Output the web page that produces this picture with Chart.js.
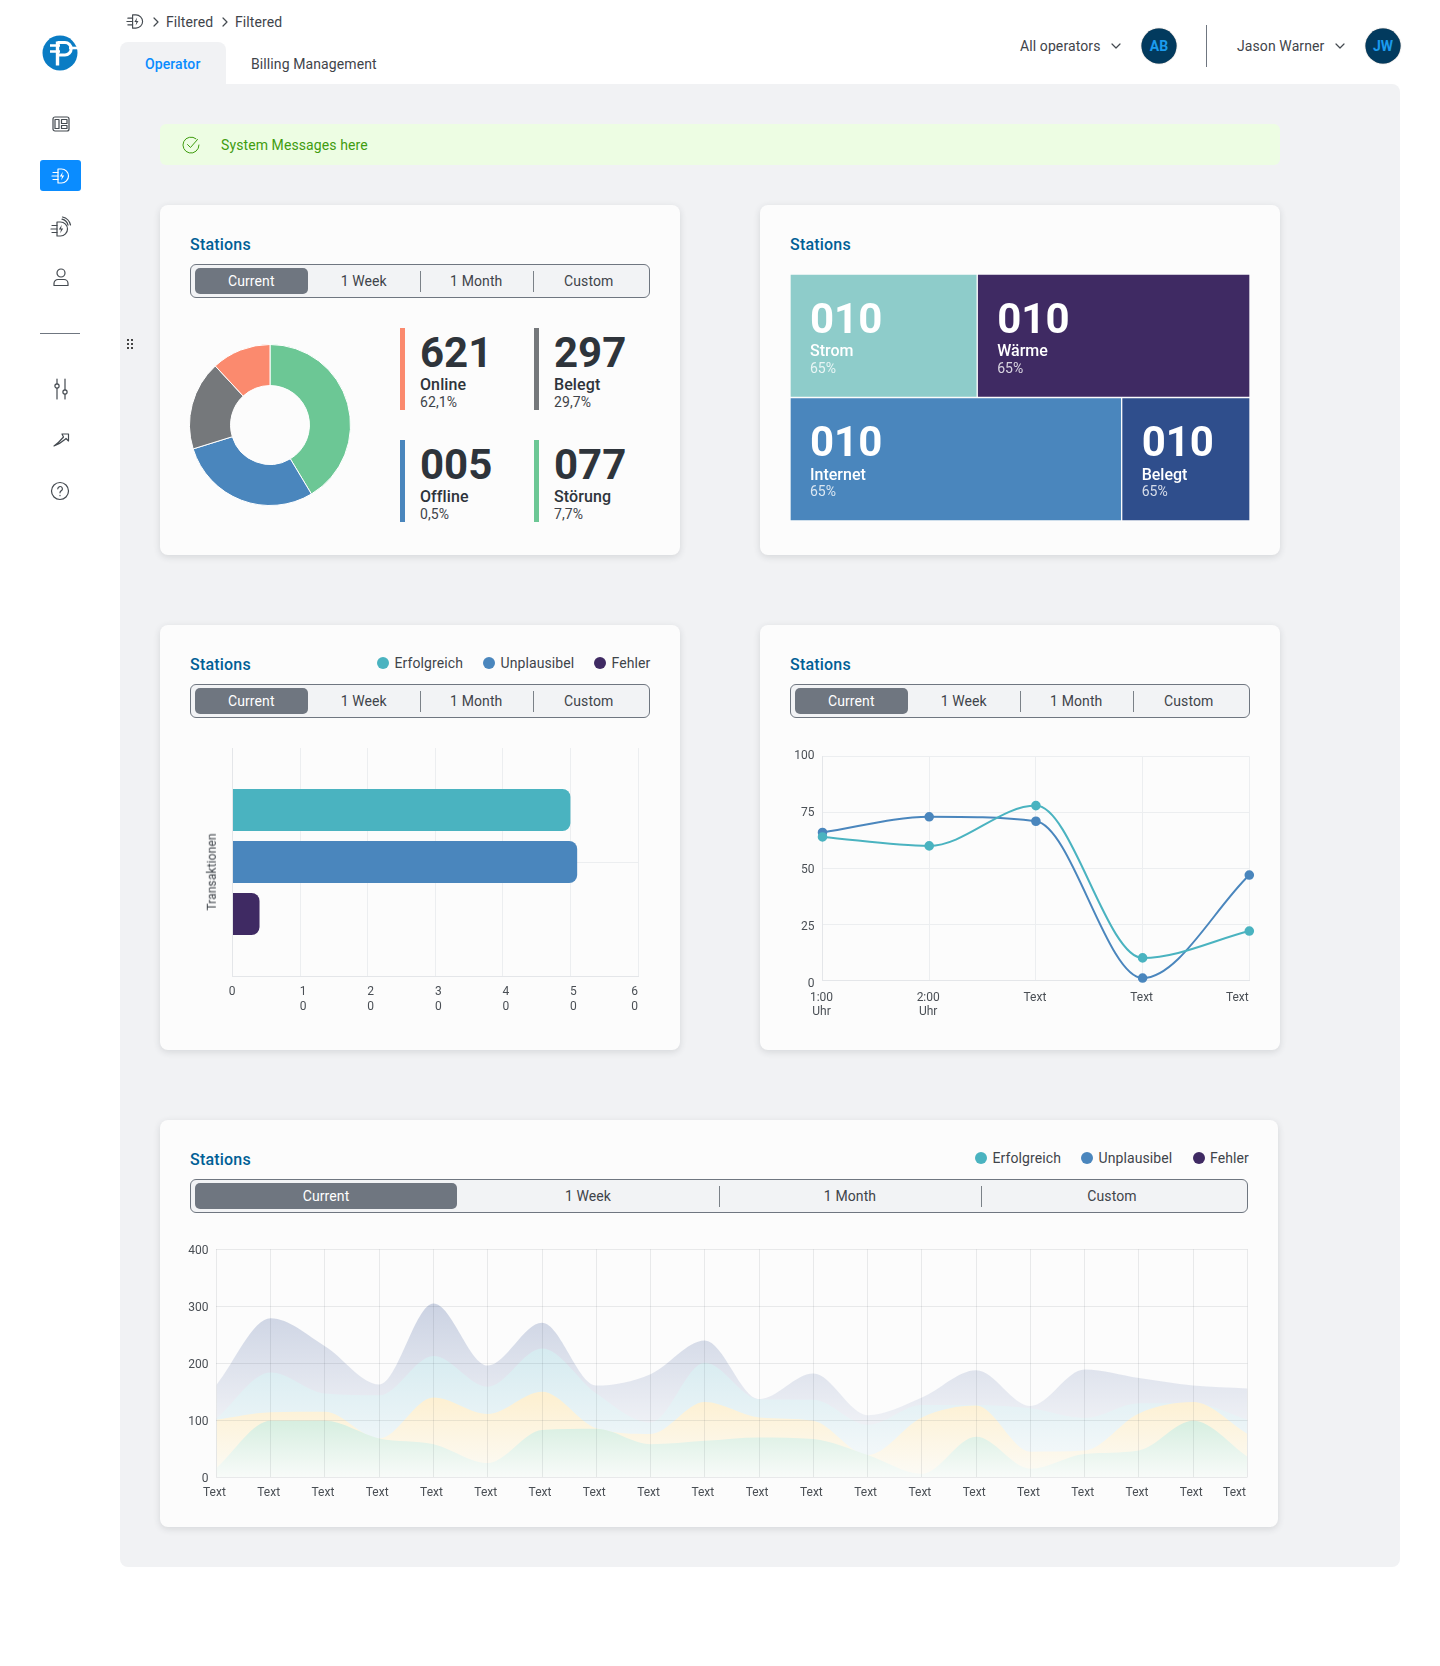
<!DOCTYPE html>
<html>
<head>
<meta charset="utf-8">
<title>Stations</title>
<script src="https://cdn.jsdelivr.net/npm/chart.js@4"></script>
<style>
html, body { margin: 0; padding: 0; background: #fff; }
body { position: relative; width: 1440px; height: 1666px; overflow: hidden; font-family: Roboto, sans-serif; color: #3f444a; }
.abs, canvas, svg.icon { position: absolute; }
.panel { background: #f1f2f4; }
.card { position: absolute; background: #fcfcfc; border-radius: 8px; box-shadow: 0 2px 7px rgba(40, 50, 60, .14); }
.txt { position: absolute; white-space: nowrap; transform: translateY(-50%); line-height: 1.2; letter-spacing: .1px; }
.title { font-size: 16px; font-weight: 500; color: #005f96; letter-spacing: .2px; }
.seg { position: absolute; box-sizing: border-box; display: flex; padding: 3px 4px 3px 4px; background: #f2f3f5; border: 1px solid #6f7680; border-radius: 6px; }
.seg div { flex: 1; text-align: center; font-size: 14px; line-height: 26px; color: #3f444a; letter-spacing: .1px; position: relative; }
.seg div.on { background: #6f7680; color: #fff; border-radius: 5px; }
.seg div.sep::after { content: ""; position: absolute; right: -1px; top: 3px; bottom: 2px; width: 1px; background: #7b8188; }
.dot { position: absolute; width: 12px; height: 12px; border-radius: 50%; transform: translate(-50%, -50%); }
.avatar { position: absolute; width: 35px; height: 35px; border-radius: 50%; background: #023a5e; color: #1b9bee; font-size: 14px; font-weight: 700; text-align: center; line-height: 35px; box-shadow: 0 0 1px #555; transform: translate(-50%, -50%); }
svg.icon { fill: none; stroke: #444a50; stroke-width: 1.2; stroke-linecap: round; stroke-linejoin: round; }
</style>
</head>
<body>
<svg width="0" height="0" style="position:absolute">
  <symbol id="plug" viewBox="0 0 20 20">
    <path d="M8 3h3.5a7 7 0 0 1 0 14H8z"/>
    <path d="M3 6.5h5M2 10h6M3 13.5h5"/>
    <path d="M12.8 5.8 9.8 10.6h2.2l-.8 3.6 3-4.8H12z" fill="currentColor" stroke="none"/>
  </symbol>
</svg>

<div class="abs panel" style="left:120px;top:84px;width:1280px;height:1483px;border-radius:0 8px 8px 8px"></div>
<div class="abs panel" style="left:120px;top:42px;width:106px;height:44px;border-radius:8px 8px 0 0"></div>
<div class="abs" style="left:40px;top:160px;width:41px;height:31px;background:#0a8cff;border-radius:3px"></div>
<div class="abs" style="left:40px;top:333px;width:40px;height:1px;background:#6f7680"></div>
<div class="abs" style="left:1206px;top:25px;width:1px;height:42px;background:#6f7680"></div>
<div class="abs" style="left:160px;top:124px;width:1120px;height:41px;background:#edfde3;border-radius:6px"></div>

<!-- logo -->
<svg class="abs" style="left:42px;top:34.5px" width="36" height="36" viewBox="0 0 36 36">
  <circle cx="18" cy="18" r="17.5" fill="#0a7cc4"/>
  <path d="M8 10.5h10M8 16.5h10" stroke="#fff" stroke-width="2.6" fill="none"/>
  <path d="M15.5 6.5v24" stroke="#fff" stroke-width="3.4" fill="none"/>
  <path d="M15.5 7.5h7.5a6.2 6.2 0 0 1 0 12.4h-7.5" fill="none" stroke="#fff" stroke-width="3"/>
  <path d="M27 13h9.5" stroke="#fff" stroke-width="2.6" fill="none"/>
</svg>
<!-- sidebar icons -->
<svg class="icon" style="left:52px;top:115px" width="18" height="18" viewBox="0 0 18 18"><rect x="1" y="2" width="16" height="14" rx="2"/><rect x="3" y="4.5" width="4" height="9"/><path d="M9.5 4.5H15v4H9.5zM9.5 10.5H15v3H9.5z"/></svg>
<svg class="icon" style="left:50px;top:165.5px;stroke:#fff;color:#fff" width="20" height="20"><use href="#plug"/></svg>
<svg class="icon" style="left:49px;top:216px;color:#444a50" width="23" height="23" viewBox="0 0 23 23"><use href="#plug" width="20" height="20" y="3"/><path d="M13 3.2a8 8 0 0 1 6 6M13.5 1a10.5 10.5 0 0 1 8 8"/></svg>
<svg class="icon" style="left:52px;top:267px" width="18" height="20" viewBox="0 0 18 20"><circle cx="9" cy="6" r="4"/><path d="M2 18.5v-2a4 4 0 0 1 4-4h6a4 4 0 0 1 4 4v2z"/></svg>
<svg class="icon" style="left:51px;top:378px" width="20" height="22" viewBox="0 0 20 22"><path d="M6 1v5M6 10v11M14 1v11M14 16v5"/><circle cx="6" cy="8" r="2.1"/><circle cx="14" cy="14" r="2.1"/></svg>
<svg class="icon" style="left:52px;top:431px" width="18" height="18" viewBox="0 0 18 18"><path d="M10 3h6.5v7L14 7.5C11 10 8 13 2 15c3-2 7-6 9.5-9z"/></svg>
<svg class="icon" style="left:50px;top:481px" width="20" height="20" viewBox="0 0 20 20"><circle cx="10" cy="10" r="8.5"/><path d="M7.8 7.8a2.3 2.3 0 1 1 3.3 2.1c-.8.4-1.1.9-1.1 1.9"/><path d="M10 14.4v.3"/></svg>
<svg class="abs" style="left:126px;top:339px" width="9" height="11" viewBox="0 0 9 11" fill="#444"><rect x="1" y="0" width="2" height="2"/><rect x="5" y="0" width="2" height="2"/><rect x="1" y="4" width="2" height="2"/><rect x="5" y="4" width="2" height="2"/><rect x="1" y="8" width="2" height="2"/><rect x="5" y="8" width="2" height="2"/></svg>
<!-- breadcrumb + header icons -->
<svg class="icon" style="left:125px;top:12px;color:#444a50" width="19" height="19"><use href="#plug"/></svg>
<svg class="icon" style="left:153px;top:17px" width="7" height="10" viewBox="0 0 7 10"><path d="M1 1l4 4-4 4"/></svg>
<svg class="icon" style="left:222px;top:17px" width="7" height="10" viewBox="0 0 7 10"><path d="M1 1l4 4-4 4"/></svg>
<svg class="icon" style="left:1111px;top:43px" width="10" height="7" viewBox="0 0 10 7"><path d="M1 1l4 4 4-4"/></svg>
<svg class="icon" style="left:1335px;top:43px" width="10" height="7" viewBox="0 0 10 7"><path d="M1 1l4 4 4-4"/></svg>
<svg class="icon" style="left:180.5px;top:135px;stroke:#3f9c0f;stroke-width:1" width="20" height="20" viewBox="0 0 20 20"><path d="M18 10a8 8 0 1 1-3-6.2"/><path d="M6.5 9.5l3 3 7-8"/></svg>

<div class="avatar" style="left:1159px;top:46px">AB</div>
<div class="avatar" style="left:1383px;top:46px">JW</div>

<div class="card" style="left:160px;top:205px;width:520px;height:350px"></div>
<div class="card" style="left:760px;top:205px;width:520px;height:350px"></div>
<div class="card" style="left:160px;top:625px;width:520px;height:425px"></div>
<div class="card" style="left:760px;top:625px;width:520px;height:425px"></div>
<div class="card" style="left:160px;top:1120px;width:1118px;height:407px"></div>

<canvas id="donut"></canvas>
<canvas id="treemap"></canvas>
<canvas id="bars"></canvas>
<canvas id="lines"></canvas>
<canvas id="areas"></canvas>

<script>
// ---- Daten ----
const donutLabels = ['Störung', 'Offline', 'Belegt', 'Online'];
const donutValues = [41.4, 28.8, 17.9, 11.9];
const donutColours = ['#6cc795', '#4a86bd', '#75787b', '#fb8a6e'];

const statValues = ['621', '297', '005', '077'];
const statNames = ['Online', 'Belegt', 'Offline', 'Störung'];
const statPercents = ['62,1%', '29,7%', '0,5%', '7,7%'];
const statColours = ['#fb8a6e', '#75787b', '#4a86bd', '#6cc795'];

const treemapRows = ['Oben', 'Unten'];
const treemapLeftValues = [40.7, 72.1];
const treemapRightValues = [59.3, 27.9];
const treemapLeftNames = ['Strom', 'Internet'];
const treemapRightNames = ['Wärme', 'Belegt'];
const treemapLeftColours = ['#8eccca', '#4a86bd'];
const treemapRightColours = ['#3f2a63', '#2f4e8c'];
const treemapNumber = '010';
const treemapPercent = '65%';

const barCategories = ['Transaktionen'];
const barErfolgreich = [50];
const barUnplausibel = [51];
const barFehler = [4];
const barTickLabels = [['0'], ['1', '0'], ['2', '0'], ['3', '0'], ['4', '0'], ['5', '0'], ['6', '0']];

const lineLabels = [['1:00', 'Uhr'], ['2:00', 'Uhr'], 'Text', 'Text', 'Text'];
const lineTeal = [64, 60, 78, 10, 22];
const lineBlue = [66, 73, 71, 1, 47];

const areaLabels = ['Text', 'Text', 'Text', 'Text', 'Text', 'Text', 'Text', 'Text', 'Text', 'Text',
                    'Text', 'Text', 'Text', 'Text', 'Text', 'Text', 'Text', 'Text', 'Text', 'Text'];
const areaPurple = [162, 279, 230, 163, 305, 196, 271, 161, 181, 240, 137, 182, 109, 140, 188, 125, 189, 174, 161, 156];
const areaTeal = [103, 184, 147, 144, 213, 159, 226, 147, 96, 201, 137, 136, 92, 127, 127, 121, 104, 130, 130, 101];
const areaYellow = [101, 114, 115, 68, 140, 111, 150, 86, 76, 132, 105, 99, 39, 105, 126, 45, 47, 112, 132, 76];
const areaGreen = [16, 99, 99, 68, 58, 25, 83, 85, 58, 64, 70, 67, 39, 6, 71, 15, 41, 47, 99, 36];

const legendNames = ['Erfolgreich', 'Unplausibel', 'Fehler'];
const legendColours = ['#4ab3c0', '#4a86bd', '#3f2a63'];
const segLabels = ['Current', '1 Week', '1 Month', 'Custom'];

// ---- HTML rund um die Charts ----
function text(str, x, y, style) {
    const el = document.createElement('div');
    el.className = 'txt';
    el.textContent = str;
    el.style.cssText = `left:${x}px;top:${y}px;${style || ''}`;
    document.body.appendChild(el);
    return el;
}

function title(x, y) {
    text('Stations', x, y).classList.add('title');
}

function segControl(x, y, w) {
    const seg = document.createElement('div');
    seg.className = 'seg';
    seg.style.cssText = `left:${x}px;top:${y}px;width:${w}px;height:34px`;
    segLabels.forEach((label, i) => {
        const item = document.createElement('div');
        item.textContent = label;
        if (i === 0) item.className = 'on';
        if (i === 1 || i === 2) item.className = 'sep';
        seg.appendChild(item);
    });
    document.body.appendChild(seg);
}

function legend(xs, y) {
    legendNames.forEach((name, i) => {
        const dot = document.createElement('div');
        dot.className = 'dot';
        dot.style.cssText = `left:${xs[i]}px;top:${y}px;background:${legendColours[i]}`;
        document.body.appendChild(dot);
        text(name, xs[i] + 11.5, y, 'font-size:14px');
    });
}

text('Filtered', 166, 21.5, 'font-size:14px');
text('Filtered', 235, 21.5, 'font-size:14px');
text('Operator', 145, 64, 'font-size:14px;font-weight:500;color:#0a8cff');
text('Billing Management', 251, 64, 'font-size:14px');
text('All operators', 1020, 46, 'font-size:14px');
text('Jason Warner', 1237, 46, 'font-size:14px');
text('System Messages here', 221, 145, 'font-size:14px;color:#3f9c0f');

title(190, 244.5);
title(790, 244.5);
title(190, 665);
title(790, 665);
title(190, 1160);
segControl(190, 264, 460);
segControl(190, 684, 460);
segControl(790, 684, 460);
segControl(190, 1179, 1058);
legend([383, 489, 600], 663);
legend([981, 1087, 1198.5], 1158);

const statColumns = [400, 534];
const statRows = [328, 440];
statValues.forEach((value, i) => {
    const x = statColumns[i % 2];
    const y = statRows[i < 2 ? 0 : 1];
    const bar = document.createElement('div');
    bar.className = 'abs';
    bar.style.cssText = `left:${x}px;top:${y}px;width:5px;height:82px;background:${statColours[i]}`;
    document.body.appendChild(bar);
    text(value, x + 20, y + 25, 'font-size:42px;font-weight:700;color:#2e343b;letter-spacing:0');
    text(statNames[i], x + 20, y + 57, 'font-size:16px;font-weight:500;color:#2e343b');
    text(statPercents[i], x + 20, y + 74, 'font-size:14px');
});

text('Transaktionen', 211.5, 872, 'font-size:12px;transform:translate(-50%,-50%) rotate(-90deg)');

// ---- Chart-Hilfen ----
Chart.defaults.font.family = 'Roboto, sans-serif';
Chart.defaults.font.size = 12;
Chart.defaults.color = '#4a4f55';
Chart.defaults.animation = false;
Chart.defaults.responsive = false;
Chart.defaults.plugins.legend.display = false;
Chart.defaults.plugins.tooltip.enabled = false;

// setzt das Canvas und liefert die Abstände, damit die Zeichenfläche genau auf "plot" liegt
function place(id, box, plot) {
    const canvas = document.getElementById(id);
    canvas.width = box.right - box.left;
    canvas.height = box.bottom - box.top;
    canvas.style.left = box.left + 'px';
    canvas.style.top = box.top + 'px';
    return {
        padding: { top: plot.top - box.top, right: box.right - plot.right, left: 0, bottom: 0 },
        fitY: scale => { scale.width = plot.left - box.left; },
        fitX: scale => { scale.height = box.bottom - plot.bottom; }
    };
}

// einzelne Tick-Labels leicht verschieben, wie im Original
const tickNudge = {
    id: 'tickNudge',
    beforeDraw(chart, args, opts) {
        const xItems = chart.scales.x.getLabelItems();
        const yItems = chart.scales.y.getLabelItems();
        if (chart.$nudged) return;
        chart.$nudged = true;
        if (xItems.length) {
            xItems[0].options.translation[0] += opts.first || 0;
            xItems[xItems.length - 1].options.translation[0] += opts.last || 0;
        }
        (opts.y || []).forEach((dy, i) => {
            if (yItems[i]) yItems[i].options.translation[1] += dy;
        });
    }
};

// Zahlen und Namen in die Treemap-Kacheln schreiben
const treemapText = {
    id: 'treemapText',
    afterDatasetsDraw(chart) {
        const ctx = chart.ctx;
        const names = [treemapLeftNames, treemapRightNames];
        ctx.save();
        ctx.textBaseline = 'middle';
        chart.data.datasets.forEach((ds, d) => {
            chart.getDatasetMeta(d).data.forEach((bar, i) => {
                const x = bar.base + 20;
                const top = bar.y - bar.height / 2;
                ctx.fillStyle = '#fff';
                ctx.font = '700 42px Roboto';
                ctx.fillText(treemapNumber, x, top + 48);
                ctx.font = '500 16px Roboto';
                ctx.fillText(names[d][i], x, top + 78);
                ctx.fillStyle = 'rgba(255,255,255,.8)';
                ctx.font = '400 14px Roboto';
                ctx.fillText(treemapPercent, x, top + 95);
            });
        });
        ctx.restore();
    }
};

// ---- Donut ----
const donutCanvas = document.getElementById('donut');
donutCanvas.width = 164;
donutCanvas.height = 164;
donutCanvas.style.left = '188px';
donutCanvas.style.top = '343px';
new Chart(donutCanvas, {
    type: 'doughnut',
    data: {
        labels: donutLabels,
        datasets: [{ data: donutValues, backgroundColor: donutColours, borderColor: '#fff', borderWidth: 1 }]
    },
    options: { cutout: '49%', layout: { padding: 1 } }
});

// ---- Treemap als gestapelte Balken ----
place('treemap', { left: 790, top: 274, right: 1250, bottom: 521 }, { left: 790, top: 274, right: 1250, bottom: 521 });
new Chart('treemap', {
    type: 'bar',
    data: {
        labels: treemapRows,
        datasets: [
            { data: treemapLeftValues, backgroundColor: treemapLeftColours },
            { data: treemapRightValues, backgroundColor: treemapRightColours }
        ]
    },
    options: {
        indexAxis: 'y',
        barPercentage: 1,
        categoryPercentage: 1,
        borderColor: '#fcfcfc',
        borderWidth: 1,
        borderSkipped: false,
        scales: {
            x: { display: false, stacked: true, min: 0, max: 100 },
            y: { display: false, stacked: true }
        }
    },
    plugins: [treemapText]
});

// ---- Balken ----
const barFit = place('bars', { left: 170, top: 735, right: 670, bottom: 1030 }, { left: 232.5, top: 748, right: 638, bottom: 976 });
new Chart('bars', {
    type: 'bar',
    data: {
        labels: barCategories,
        datasets: [
            { label: legendNames[0], data: barErfolgreich, backgroundColor: legendColours[0] },
            { label: legendNames[1], data: barUnplausibel, backgroundColor: legendColours[1] },
            { label: legendNames[2], data: barFehler, backgroundColor: legendColours[2] }
        ]
    },
    options: {
        indexAxis: 'y',
        categoryPercentage: 0.684,
        barPercentage: 0.81,
        borderRadius: 8,
        layout: { padding: barFit.padding },
        scales: {
            x: {
                min: 0, max: 60,
                ticks: { stepSize: 10, padding: 9, maxRotation: 0, labelOffset: 3, callback: (v, i) => barTickLabels[i] },
                grid: { color: '#eceef0', drawTicks: false },
                border: { color: '#e4e6e9' },
                afterFit: barFit.fitX
            },
            y: {
                ticks: { display: false },
                grid: { color: '#eceef0', drawTicks: false, offset: false },
                border: { color: '#e4e6e9' },
                afterFit: barFit.fitY
            }
        },
        plugins: { tickNudge: { first: -3.5, last: -6.5 } }
    },
    plugins: [tickNudge]
});

// ---- Linien ----
const lineFit = place('lines', { left: 770, top: 740, right: 1275, bottom: 1035 }, { left: 822.5, top: 756.3, right: 1249.3, bottom: 980.3 });
const lineStyle = { borderWidth: 2, pointRadius: 3.8, cubicInterpolationMode: 'monotone', clip: false };
new Chart('lines', {
    type: 'line',
    data: {
        labels: lineLabels,
        datasets: [
            { ...lineStyle, data: lineTeal, borderColor: legendColours[0], backgroundColor: legendColours[0] },
            { ...lineStyle, data: lineBlue, borderColor: legendColours[1], backgroundColor: legendColours[1] }
        ]
    },
    options: {
        layout: { padding: lineFit.padding },
        scales: {
            x: {
                ticks: { padding: 10, maxRotation: 0, labelOffset: -1 },
                grid: { color: '#eceef0', drawTicks: false },
                border: { color: '#e4e6e9' },
                afterFit: lineFit.fitX
            },
            y: {
                min: 0, max: 100,
                ticks: { stepSize: 25, padding: 8 },
                grid: { color: '#eceef0', drawTicks: false },
                border: { color: '#e4e6e9' },
                afterFit: lineFit.fitY
            }
        },
        plugins: { tickNudge: { first: 0, last: -11, y: [4, 3, 2, 1, -0.5] } }
    },
    plugins: [tickNudge]
});

// ---- Flächen ----
function fade(topValue, topColour, bottomValue, bottomColour) {
    return context => {
        const chart = context.chart;
        if (!chart.chartArea) return topColour;
        const y = chart.scales.y;
        const g = chart.ctx.createLinearGradient(0, y.getPixelForValue(topValue), 0, y.getPixelForValue(bottomValue));
        g.addColorStop(0, topColour);
        g.addColorStop(1, bottomColour);
        return g;
    };
}

const areaFit = place('areas', { left: 165, top: 1232, right: 1272, bottom: 1515 }, { left: 216.4, top: 1249.3, right: 1247.5, bottom: 1477.3 });
const areaStyle = { fill: 'origin', borderWidth: 0, pointRadius: 0, cubicInterpolationMode: 'monotone' };
new Chart('areas', {
    type: 'line',
    data: {
        labels: areaLabels,
        datasets: [
            { ...areaStyle, data: areaGreen, backgroundColor: fade(100, '#d6eee0', 0, '#f8fbf9') },
            { ...areaStyle, data: areaYellow, backgroundColor: fade(140, '#fdf0d2', 0, '#fcfbf6') },
            { ...areaStyle, data: areaTeal, backgroundColor: fade(220, '#d6ebf0', 50, '#f1f7f9') },
            { ...areaStyle, data: areaPurple, backgroundColor: fade(300, '#ccd3e3', 100, '#eef0f5') }
        ]
    },
    options: {
        layout: { padding: areaFit.padding },
        scales: {
            x: {
                ticks: { padding: 8, maxRotation: 0, autoSkip: false, labelOffset: -2 },
                grid: { color: 'rgba(30,45,60,.09)', drawTicks: false, z: 1 },
                border: { display: false },
                afterFit: areaFit.fitX
            },
            y: {
                min: 0, max: 400,
                ticks: { stepSize: 100, padding: 8, labelOffset: 2 },
                grid: { color: 'rgba(30,45,60,.09)', drawTicks: false, z: 1 },
                border: { display: false },
                afterFit: areaFit.fitY
            }
        },
        plugins: { tickNudge: { first: 0, last: -11 } }
    },
    plugins: [tickNudge]
});
</script>
</body>
</html>
